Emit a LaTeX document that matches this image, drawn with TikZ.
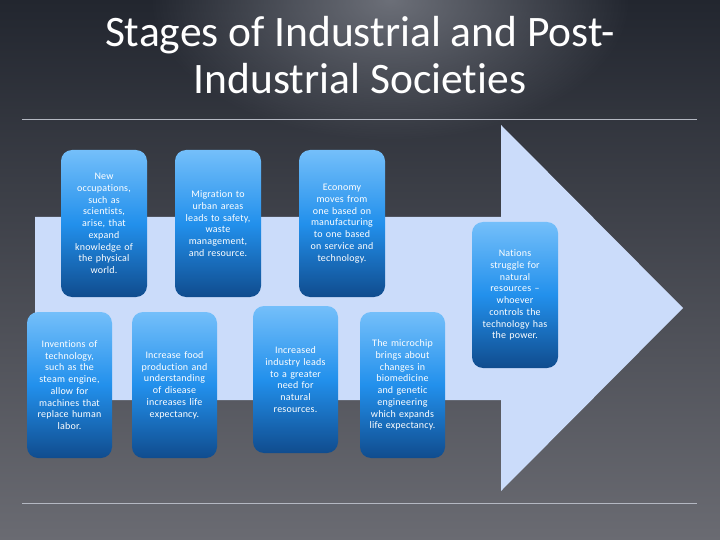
\documentclass[tikz,border=0pt]{standalone}
\usepackage{fontspec}
\setmainfont{Carlito}[Ligatures=NoCommon]
\newfontfamily\boxfont[LetterSpace=2,Ligatures=NoCommon]{Carlito}
\usetikzlibrary{fadings}
\definecolor{bgtop}{HTML}{22262F}
\definecolor{bgmid}{HTML}{2E313B}
\definecolor{bgbot}{HTML}{6A6B72}
\definecolor{glow}{HTML}{8C8F98}
\definecolor{arrowblue}{HTML}{CBDCFA}
\definecolor{boxtop}{HTML}{74BFFA}
\definecolor{boxmid}{HTML}{2290EC}
\definecolor{boxbot}{HTML}{104C8E}
\definecolor{rulegray}{HTML}{B4B8C2}
\tikzfading[name=glowfade, inner color=transparent!30, outer color=transparent!100]
\begin{document}
\begin{tikzpicture}[x=1pt,y=-1pt,
  stagebox/.style={rounded corners=11pt, top color=boxtop, bottom color=boxbot,
    middle color=boxmid, minimum width=86pt, minimum height=147pt, inner sep=0pt,
    text width=84pt, align=center, text=white,
    font=\boxfont\fontsize{10}{11.75}\selectfont},
  titletext/.style={text=white, align=center, font=\fontsize{43.5}{47}\selectfont},
  rule/.style={draw=rulegray, line width=1pt}]
\path[use as bounding box] (0,0) rectangle (720,540);
% background
\shade[top color=bgtop, middle color=bgmid, bottom color=bgbot] (0,0) rectangle (720,540);
\fill[glow, path fading=glowfade] (390,0) ellipse [x radius=240pt, y radius=140pt];
% title
\node[titletext, anchor=base] (title1) at (360,47) {Stages of Industrial and Post-};
\node[titletext, anchor=base] (title2) at (360,94) {Industrial Societies};
% rules
\draw[rule] (22,120) -- (697,120);
\draw[rule] (22,503) -- (697,503);
% arrow
\fill[arrowblue] (35,217) -- (501,217) -- (501,125) -- (683,308) -- (501,491) -- (501,400) -- (35,400) -- cycle;
% boxes
\node[stagebox] (n1) at (104,223.5) {New\\occupations,\\such as\\scientists,\\arise, that\\expand\\knowledge of\\the physical\\world.};
\node[stagebox] (n2) at (218,223.5) {Migration to\\urban areas\\leads to safety,\\waste\\management,\\and resource.};
\node[stagebox] (n3) at (342,223.5) {Economy\\moves from\\one based on\\manufacturing\\to one based\\on service and\\technology.};
\node[stagebox, minimum width=85pt, minimum height=146pt] (n4) at (69.5,385) {Inventions of\\technology,\\such as the\\steam engine,\\allow for\\machines that\\replace human\\labor.};
\node[stagebox, minimum width=85pt, minimum height=146pt] (n5) at (174.5,385) {Increase food\\production and\\understanding\\of disease\\increases life\\expectancy.};
\node[stagebox, minimum width=85pt] (n6) at (295.5,379.5) {Increased\\industry leads\\to a greater\\need for\\natural\\resources.};
\node[stagebox, minimum width=85pt, minimum height=146pt] (n7) at (402.5,385) {The microchip\\brings about\\changes in\\biomedicine\\and genetic\\engineering\\which expands\\life expectancy.};
\node[stagebox, minimum height=146pt] (n8) at (515,295) {Nations\\struggle for\\natural\\resources –\\whoever\\controls the\\technology has\\the power.};
\end{tikzpicture}
\end{document}
